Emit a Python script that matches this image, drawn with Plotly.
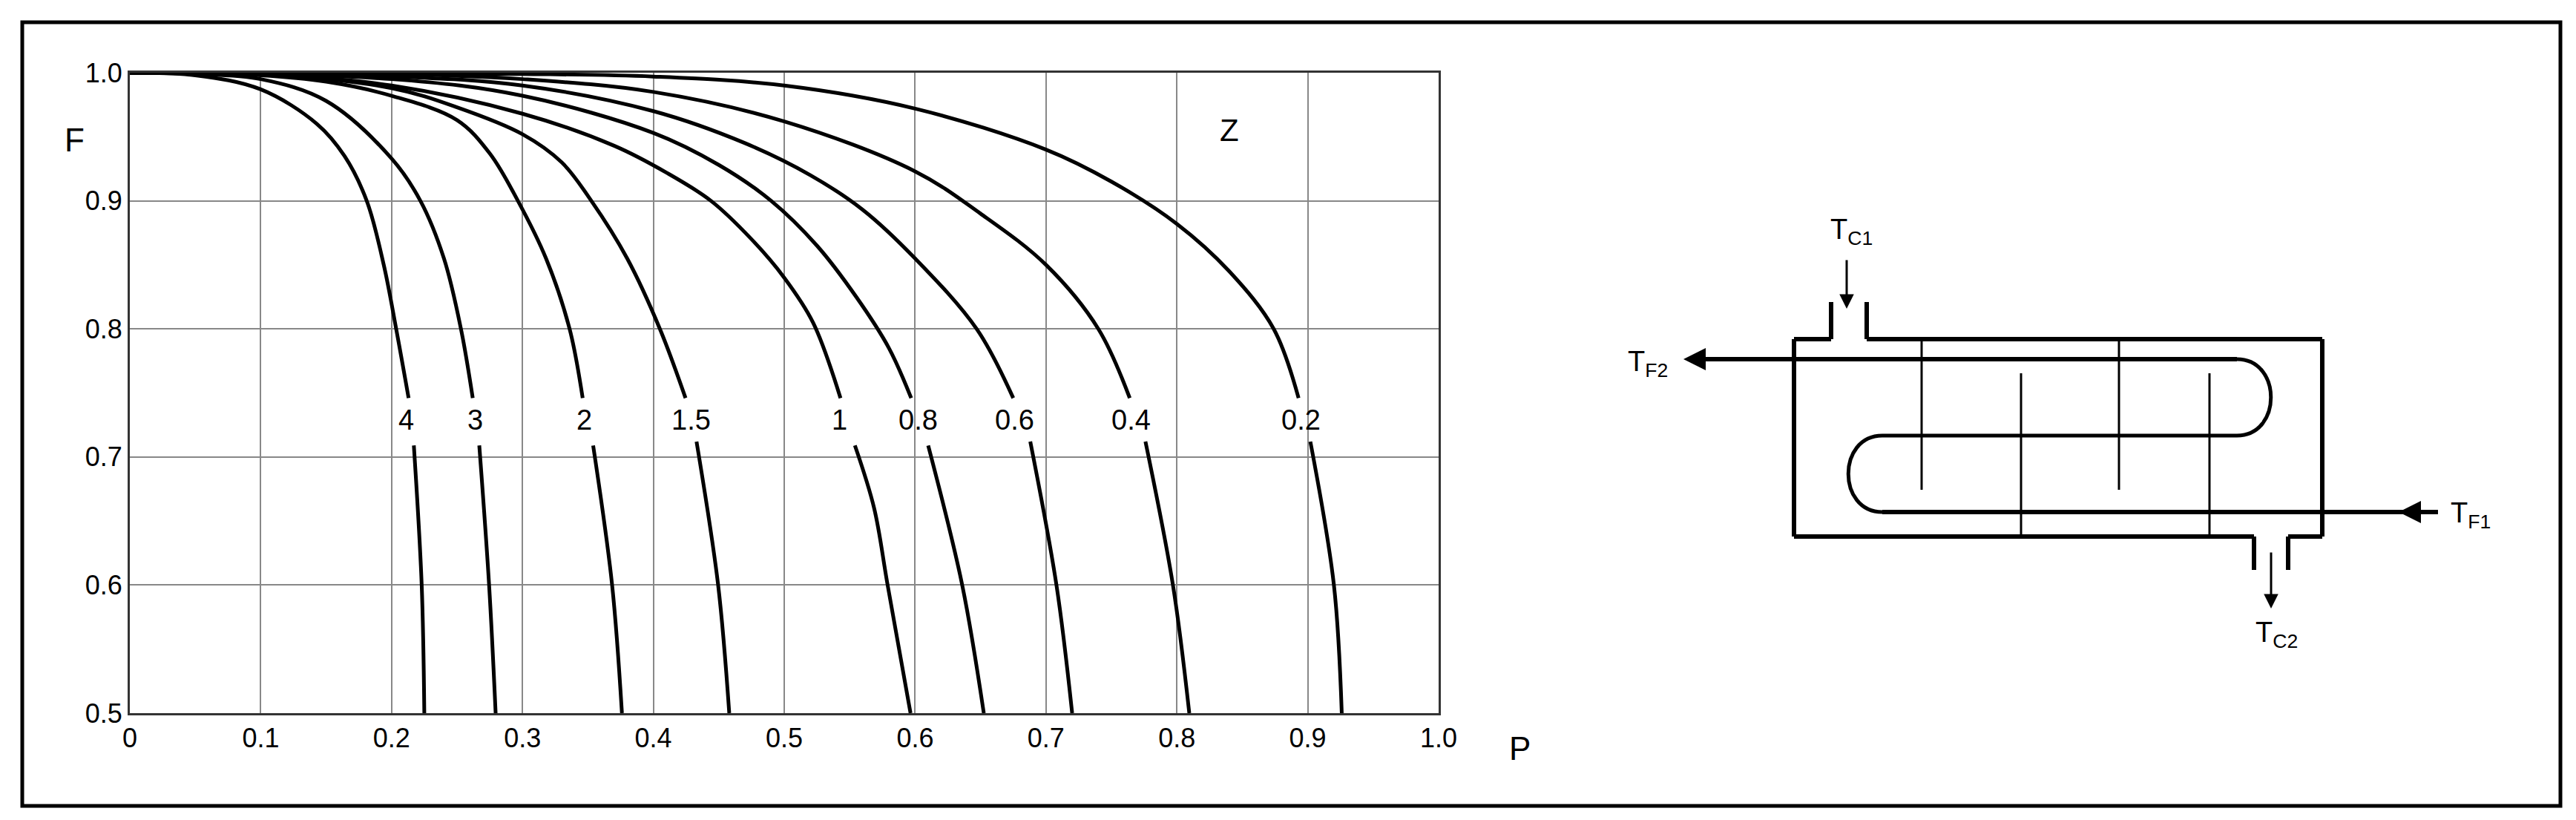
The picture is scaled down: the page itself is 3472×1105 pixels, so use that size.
import plotly.graph_objects as go

Z_LABELS = ["4", "3", "2", "1.5", "1", "0.8", "0.6", "0.4", "0.2"]
# upper branch (above label) and lower branch (below label) of each Z curve
P_4 = [0, 0.05, 0.1, 0.143, 0.164, 0.181, 0.194, 0.2035, 0.213, None, 0.217, 0.223, 0.225]
F_4 = [1, 0.998, 0.987, 0.96, 0.935, 0.9, 0.85, 0.8, 0.746, None, 0.709, 0.6, 0.5]
P_3 = [0, 0.05, 0.1, 0.15, 0.2, 0.222, 0.24, 0.253, 0.262, None, 0.267, 0.2745, 0.2795]
F_3 = [1, 0.999, 0.995, 0.978, 0.933, 0.9, 0.855, 0.8, 0.746, None, 0.709, 0.6, 0.5]
P_2 = [0, 0.1, 0.15, 0.2, 0.25, 0.275, 0.2965, 0.318, 0.336, 0.346, None, 0.354, 0.3685, 0.376]
F_2 = [1, 0.998, 0.993, 0.982, 0.963, 0.937, 0.9, 0.855, 0.8, 0.746, None, 0.709, 0.6, 0.5]
P_15 = [0, 0.1, 0.2, 0.25, 0.3, 0.33, 0.3526, 0.38, 0.405, 0.4246, None, 0.433, 0.4495, 0.458]
F_15 = [1, 0.999, 0.988, 0.973, 0.952, 0.93, 0.9, 0.855, 0.8, 0.746, None, 0.712, 0.6, 0.5]
P_1 = [0, 0.1, 0.2, 0.3, 0.37, 0.41, 0.444, 0.475, 0.5, 0.522, 0.543, None, 0.554, 0.5687, 0.579, 0.5965]
F_1 = [1, 0.999, 0.99, 0.968, 0.943, 0.922, 0.9, 0.87, 0.84, 0.805, 0.746, None, 0.709, 0.66, 0.6, 0.5]
P_08 = [0, 0.2, 0.3, 0.4, 0.45, 0.49, 0.525, 0.555, 0.58, 0.597, None, 0.61, 0.636, 0.6525]
F_08 = [1, 0.995, 0.982, 0.953, 0.928, 0.9, 0.865, 0.825, 0.785, 0.746, None, 0.709, 0.6, 0.5]
P_06 = [0, 0.2, 0.3, 0.4, 0.47, 0.52, 0.56, 0.6, 0.647, 0.675, None, 0.688, 0.708, 0.72]
F_06 = [1, 0.997, 0.99, 0.97, 0.945, 0.92, 0.893, 0.855, 0.8, 0.746, None, 0.712, 0.6, 0.5]
P_04 = [0, 0.2, 0.3, 0.4, 0.5, 0.6, 0.65, 0.7, 0.74, 0.764, None, 0.776, 0.797, 0.8095]
F_04 = [1, 0.999, 0.995, 0.985, 0.962, 0.923, 0.89, 0.85, 0.8, 0.746, None, 0.712, 0.6, 0.5]
P_02 = [0, 0.3, 0.4, 0.5, 0.6, 0.7, 0.75, 0.8, 0.84, 0.874, 0.893, None, 0.902, 0.92, 0.926]
F_02 = [1, 0.999, 0.997, 0.99, 0.972, 0.94, 0.915, 0.882, 0.845, 0.8, 0.746, None, 0.712, 0.6, 0.5]
CURVES = [(P_4, F_4), (P_3, F_3), (P_2, F_2), (P_15, F_15), (P_1, F_1),
          (P_08, F_08), (P_06, F_06), (P_04, F_04), (P_02, F_02)]
LABEL_P = [0.211, 0.264, 0.347, 0.4286, 0.5425, 0.6026, 0.676, 0.765, 0.895]
LABEL_F = 0.729
X_TICKS = [0, 0.1, 0.2, 0.3, 0.4, 0.5, 0.6, 0.7, 0.8, 0.9, 1.0]
X_TICK_TEXT = ["0", "0.1", "0.2", "0.3", "0.4", "0.5", "0.6", "0.7", "0.8", "0.9", "1.0"]
Y_TICKS = [0.5, 0.6, 0.7, 0.8, 0.9, 1.0]
Y_TICK_TEXT = ["0.5", "0.6", "0.7", "0.8", "0.9", "1.0"]

FONT = "Liberation Sans, Arial, sans-serif"
W, H = 3472, 1105
fig = go.Figure()
for (p, f) in CURVES:
    fig.add_trace(go.Scatter(x=p, y=f, mode="lines", connectgaps=False,
                             line=dict(color="black", width=5, shape="spline", smoothing=1.0),
                             hoverinfo="skip", showlegend=False))
for lab, px in zip(Z_LABELS, LABEL_P):
    fig.add_annotation(x=px, y=LABEL_F, text=lab, showarrow=False,
                       font=dict(size=38, color="black", family=FONT))
fig.add_annotation(x=0.84, y=0.955, text="Z", showarrow=False, font=dict(size=42, color="black", family=FONT))

xd = [167 / W, 1931 / W]
yd = [1 - 953 / H, 1 - 90 / H]
fig.update_layout(
    width=W, height=H, margin=dict(l=0, r=0, t=0, b=0, autoexpand=False), paper_bgcolor="white",
    plot_bgcolor="rgba(0,0,0,0)",
    xaxis=dict(domain=xd, range=[0, 1.0], tickvals=X_TICKS, ticktext=X_TICK_TEXT, showgrid=True, automargin=False,
               gridcolor="#888", gridwidth=2, showline=True, linecolor="#333", linewidth=3, mirror=True,
               zeroline=False, ticks="", tickfont=dict(size=36, family=FONT, color="black")),
    yaxis=dict(domain=yd, range=[0.5, 1.0], tickvals=Y_TICKS, ticktext=Y_TICK_TEXT, showgrid=True, automargin=False,
               gridcolor="#888", gridwidth=2, showline=True, linecolor="#333", linewidth=3, mirror=True,
               zeroline=False, ticks="", tickfont=dict(size=36, family=FONT, color="black")),
    xaxis2=dict(domain=[0, 1], range=[0, W], visible=False, anchor="y2", automargin=False),
    yaxis2=dict(domain=[0, 1], range=[H, 0], visible=False, anchor="x2", automargin=False),
)
fig.add_trace(go.Scatter(x=[0, W], y=[0, H], xaxis="x2", yaxis="y2", mode="markers",
                         marker=dict(opacity=0), hoverinfo="skip", showlegend=False))

def ln(x0, y0, x1, y1, w=3):
    fig.add_shape(type="line", x0=x0, y0=y0, x1=x1, y1=y1, xref="x2", yref="y2", line=dict(color="black", width=w))

def arrow(x0, y0, x1, y1, w=3):
    fig.add_annotation(x=x1, y=y1, ax=x0, ay=y0, xref="x2", yref="y2", axref="x2", ayref="y2", text="",
                       showarrow=True, arrowhead=2, arrowsize=1.3 if w < 4 else 1.0, arrowwidth=w, arrowcolor="black")

fig.add_shape(type="rect", x0=22, y0=22, x1=3443, y1=1078, xref="x2", yref="y2", line=dict(color="black", width=5))
fig.add_annotation(x=92, y=180, xref="x2", yref="y2", text="F", showarrow=False, font=dict(size=44, family=FONT, color="black"))
fig.add_annotation(x=2040, y=1000, xref="x2", yref="y2", text="P", showarrow=False, font=dict(size=44, family=FONT, color="black"))

SW = 6
ln(2410, 449, 2460, 449, SW); ln(2508, 449, 3122, 449, SW)
ln(2410, 449, 2410, 715, SW); ln(3122, 449, 3122, 715, SW)
ln(2410, 715, 3030, 715, SW); ln(3076, 715, 3122, 715, SW)
ln(2460, 399, 2460, 449, SW); ln(2508, 399, 2508, 449, SW)
ln(3030, 715, 3030, 760, SW); ln(3076, 715, 3076, 760, SW)
ln(3007, 476, 2290, 476, 6)
arrow(2300, 476, 2261, 476, 6)
ln(3007, 579, 2529, 579, 5)
ln(2529, 682, 3278, 682, 6)
arrow(3278, 682, 3225, 682, 6)
fig.add_shape(type="path", path="M 3007,476 C 3068,476 3068,579 3007,579", xref="x2", yref="y2", line=dict(color="black", width=5))
fig.add_shape(type="path", path="M 2529,579 C 2468,579 2468,682 2529,682", xref="x2", yref="y2", line=dict(color="black", width=5))
ln(2582, 449, 2582, 652, 3); ln(2848, 449, 2848, 652, 3)
ln(2716, 495, 2716, 715, 3); ln(2970, 495, 2970, 715, 3)
arrow(2481, 341, 2481, 408, 3)
arrow(3053, 735, 3053, 812, 3)
tf = dict(size=38, family=FONT, color="black")
fig.add_annotation(x=2487, y=304, xref="x2", yref="y2", text="T<sub>C1</sub>", showarrow=False, font=tf)
fig.add_annotation(x=2213, y=482, xref="x2", yref="y2", text="T<sub>F2</sub>", showarrow=False, font=tf)
fig.add_annotation(x=3322, y=686, xref="x2", yref="y2", text="T<sub>F1</sub>", showarrow=False, font=tf)
fig.add_annotation(x=3060, y=847, xref="x2", yref="y2", text="T<sub>C2</sub>", showarrow=False, font=tf)

fig.write_html("out.html")
